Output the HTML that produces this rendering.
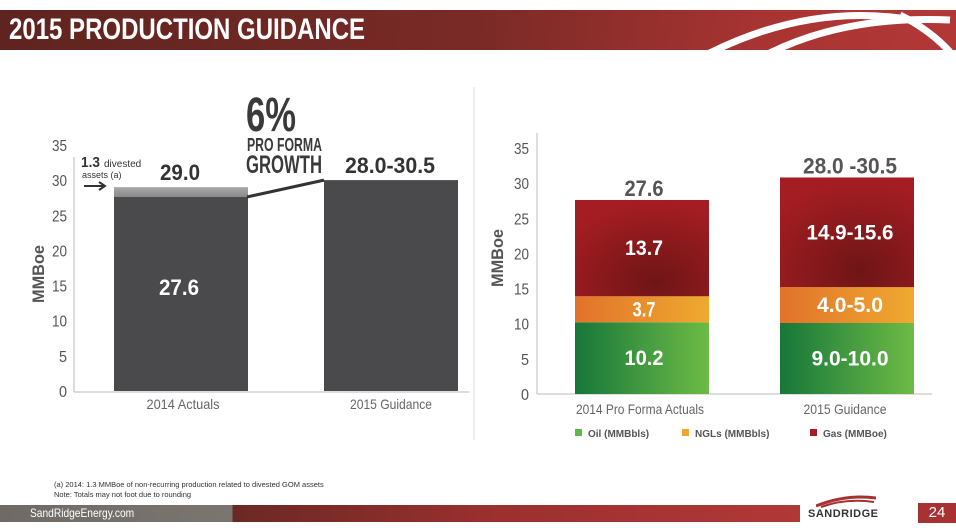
<!DOCTYPE html>
<html><head><meta charset="utf-8"><style>
body{margin:0;width:956px;height:528px;background:#fff;overflow:hidden;font-family:"Liberation Sans",sans-serif;position:relative}
.hdr{position:absolute;left:0;top:10px;width:956px;height:40px;background:linear-gradient(100deg,#5e241f 0%,#7a2a26 50%,#a83432 80%,#b23836 100%);overflow:hidden}
.title{position:absolute;left:9px;top:13px;color:#fff;font:bold 30px "Liberation Sans",sans-serif;transform:scaleX(0.8);transform-origin:0 0;white-space:nowrap}
.ftr{position:absolute;left:0;top:505px;height:17px;width:800px;background:linear-gradient(90deg,#6f6a66 0,#7b7570 232px,#6b2924 233px,#9b302f 500px,#b03937 800px)}
.pg{position:absolute;left:918px;top:503px;width:38px;height:20px;background:#a83232;color:#fff;font:15px "Liberation Sans",sans-serif;text-align:center;line-height:20px}
</style></head><body>
<div class="hdr">
<svg width="956" height="40" style="position:absolute;left:0;top:0"><g fill="none" stroke="#fff" stroke-width="7"><path d="M700 48 Q800 -5 900 8"/><path d="M760 48 Q840 5 950 10"/><path d="M900 5 Q930 20 950 42"/></g></svg>
</div>
<div class="title">2015 PRODUCTION GUIDANCE</div>

<svg width="956" height="528" style="position:absolute;left:0;top:0" id="charts">
<line x1="474" y1="87" x2="474" y2="440" stroke="#ddd" stroke-width="1"/>
<g id="left"></g>
<g id="right"></g>
<defs>
<linearGradient id="gOil" x1="0" x2="1"><stop offset="0" stop-color="#17773a"/><stop offset="1" stop-color="#6dbb45"/></linearGradient>
<linearGradient id="gNgl" x1="0" x2="1"><stop offset="0" stop-color="#e2722a"/><stop offset="1" stop-color="#eeaa30"/></linearGradient>
<radialGradient id="gGas" cx="0.6" cy="0.85" r="0.8"><stop offset="0" stop-color="#6e1516"/><stop offset="1" stop-color="#a31d22"/></radialGradient>
<linearGradient id="gDiv" x1="0" y1="0" x2="0" y2="1"><stop offset="0" stop-color="#aaa"/><stop offset="1" stop-color="#888"/></linearGradient>
</defs>
</svg>

<div style="position:absolute;left:54px;top:480px;font-size:7.5px;color:#333;line-height:10px">(a) 2014: 1.3 MMBoe of non-recurring production related to divested GOM assets<br>Note: Totals may not foot due to rounding</div>
<div class="ftr"></div>
<div style="position:absolute;left:30px;top:506px;color:#fff;font:12px 'Liberation Sans',sans-serif;transform:scaleX(0.85);transform-origin:0 0">SandRidgeEnergy.com</div>
<div style="position:absolute;left:808px;top:508px;color:#333;font:bold 11px 'Liberation Sans',sans-serif;letter-spacing:0.5px"><svg width="60" height="14" style="position:absolute;left:8px;top:-14px"><path d="M0 12 Q30 0 60 4" stroke="#a83232" stroke-width="3" fill="none"/><path d="M5 13 Q30 4 58 8" stroke="#a83232" stroke-width="2" fill="none"/></svg>SANDRIDGE</div>
<div class="pg">24</div>

<script>
const NS='http://www.w3.org/2000/svg';
function mk(p,tag,attrs,txt){const e=document.createElementNS(NS,tag);for(const k in attrs)e.setAttribute(k,attrs[k]);if(txt!==undefined)e.textContent=txt;p.appendChild(e);return e;}
function fit(e,w){e.setAttribute('textLength',w);e.setAttribute('lengthAdjust','spacingAndGlyphs');return e;}

// Left chart data
const leftCats=['2014 Actuals','2015 Guidance'];
const leftBase=[27.6,30.0];
const leftDivested=[1.4,0];
const leftLabels=['29.0','28.0-30.5'];
const leftTicks=[0,5,10,15,20,25,30,35];

// Right chart data
const rightCats=['2014 Pro Forma Actuals','2015 Guidance'];
const oilVals=[10.2,10.1];
const nglVals=[3.7,5.1];
const gasVals=[13.7,15.6];
const oilLabels=['10.2','9.0-10.0'];
const nglLabels=['3.7','4.0-5.0'];
const gasLabels=['13.7','14.9-15.6'];
const totalLabels=['27.6','28.0 -30.5'];
const rightTicks=[0,5,10,15,20,25,30,35];

const L=document.getElementById('left');
const ly=v=>391-v*7.03;
const lx=[114,324], lw=134;
mk(L,'line',{x1:74,y1:157,x2:74,y2:392,stroke:'#bbb'});
mk(L,'line',{x1:74,y1:392,x2:469,y2:392,stroke:'#bbb'});
leftTicks.forEach(t=>{const e=mk(L,'text',{x:67,y:ly(t)+6,'text-anchor':'end','font-size':16,fill:'#555'},t);fit(e,t>=10?15:8);});
const yt=fit(mk(L,'text',{x:44,y:274,'text-anchor':'middle','font-size':17,'font-weight':'bold',fill:'#555',transform:'rotate(-90 44 274)'},'MMBoe'),58);

const ltc=[180,390], lxc=[183,391];
leftCats.forEach((c,i)=>{
 const b=mk(L,'rect',{x:lx[i],y:ly(leftBase[i]),width:lw,height:ly(0)-ly(leftBase[i]),fill:'#4a4a4c'});
 
 if(leftDivested[i]>0){const d=mk(L,'rect',{x:lx[i],y:ly(leftBase[i]+leftDivested[i]),width:lw,height:ly(leftBase[i])-ly(leftBase[i]+leftDivested[i]),fill:'url(#gDiv)'});
 }
 const top=leftBase[i]+leftDivested[i];
 const lb=fit(mk(L,'text',{x:ltc[i],y:ly(top)-7,'text-anchor':'middle','font-size':22,'font-weight':'bold',fill:'#333'},leftLabels[i]),i?90:40);
 
 const xl=fit(mk(L,'text',{x:lxc[i],y:409,'text-anchor':'middle','font-size':14,fill:'#666'},c),i?82:73);
 
});
const inl=fit(mk(L,'text',{x:179,y:295,'text-anchor':'middle','font-size':22,'font-weight':'bold',fill:'#fff'},'27.6'),40);

mk(L,'line',{x1:247,y1:ly(leftBase[0]),x2:324,y2:ly(leftBase[1]),stroke:'#333','stroke-width':3});
fit(mk(L,'text',{x:81,y:167,'font-size':15,'font-weight':'bold',fill:'#333'},'1.3'),19);
mk(L,'text',{x:104,y:167,'font-size':10,fill:'#333'},'divested');
mk(L,'text',{x:82,y:178,'font-size':9,fill:'#333'},'assets (a)');
mk(L,'path',{d:'M84 186 L104 186 M99 182 L105 186 L99 190',stroke:'#333','stroke-width':2,fill:'none'});
const g1=fit(mk(L,'text',{x:246,y:131,'font-size':48,'font-weight':'bold',fill:'#3a3a3a'},'6%'),50);

fit(mk(L,'text',{x:247,y:151,'font-size':18,'font-weight':'bold',fill:'#3a3a3a'},'PRO FORMA'),75);
fit(mk(L,'text',{x:246,y:173,'font-size':25,'font-weight':'bold',fill:'#3a3a3a'},'GROWTH'),76);

const R=document.getElementById('right');
const ry=v=>394-v*7.03;
const rx=[575,780], rw=134;
mk(R,'line',{x1:537,y1:133,x2:537,y2:394,stroke:'#bbb'});
mk(R,'line',{x1:537,y1:394,x2:932,y2:394,stroke:'#bbb'});
rightTicks.forEach(t=>{const e=mk(R,'text',{x:529,y:ry(t)+6,'text-anchor':'end','font-size':16,fill:'#555'},t);fit(e,t>=10?15:8);});
const yt2=fit(mk(R,'text',{x:503,y:258,'text-anchor':'middle','font-size':17,'font-weight':'bold',fill:'#555',transform:'rotate(-90 503 258)'},'MMBoe'),58);

const segW=[[39,23,38],[77,66,87]], totW=[39,94], xW=[128,83];
const cc=[644,850];
rightCats.forEach((c,i)=>{
 const segs=[[oilVals[i],'url(#gOil)',oilLabels[i],'oil'],[nglVals[i],'url(#gNgl)',nglLabels[i],'ngl'],[gasVals[i],'url(#gGas)',gasLabels[i],'gas']];
 let base=0;
 segs.forEach((s,k)=>{
  const r=mk(R,'rect',{x:rx[i],y:ry(base+s[0]),width:rw,height:ry(base)-ry(base+s[0]),fill:s[1]});
  
  const t=fit(mk(R,'text',{x:cc[i],y:(ry(base)+ry(base+s[0]))/2+7,'text-anchor':'middle','font-size':21,'font-weight':'bold',fill:'#fff'},s[2]),segW[i][k]);
  
  base+=s[0];
 });
 const tl=fit(mk(R,'text',{x:cc[i],y:ry(base)-4,'text-anchor':'middle','font-size':22,'font-weight':'bold',fill:'#555'},totalLabels[i]),totW[i]);
 
 const xl=fit(mk(R,'text',{x:i?845:640,y:414,'text-anchor':'middle','font-size':14,fill:'#666'},c),xW[i]);
 
});
[['#5db847','Oil (MMBbls)',575],['#eea72e','NGLs (MMBbls)',682],['#a31d22','Gas (MMBoe)',810]].forEach(l=>{
 const g=mk(R,'g',{});
 
 mk(g,'rect',{x:l[2],y:429,width:7,height:7,fill:l[0]});
 mk(g,'text',{x:l[2]+13,y:437,'font-size':10,'font-weight':'bold',fill:'#555'},l[1]);
});
</script>
</body></html>
